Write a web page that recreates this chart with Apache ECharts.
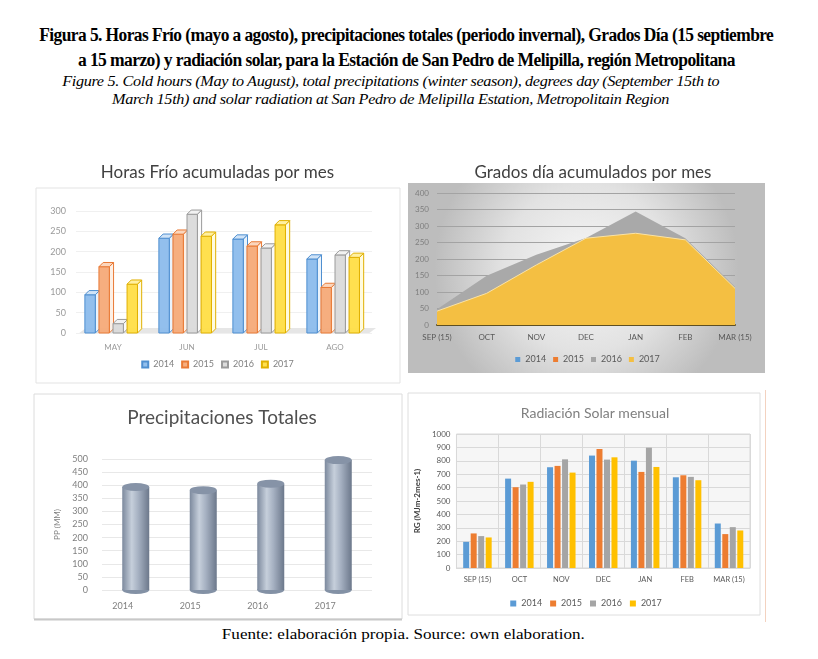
<!DOCTYPE html>
<html>
<head>
<meta charset="utf-8">
<script src="https://cdn.jsdelivr.net/npm/echarts@6/dist/echarts.min.js"></script>
<style>
  html,body{margin:0;padding:0;background:#fff;width:818px;height:659px;overflow:hidden;}
  .hl{position:absolute;white-space:nowrap;font-family:"Liberation Serif","Times New Roman",serif;color:#000;transform-origin:center center;}
  .ch{position:absolute;}
</style>
</head>
<body>
<div class="hl" id="h1" data-cx="406" data-cy="35" data-w="734" style="font-weight:bold;font-size:18px;letter-spacing:-0.6px;">Figura 5. Horas Frío (mayo a agosto), precipitaciones totales (periodo invernal), Grados Día (15 septiembre</div>
<div class="hl" id="h2" data-cx="406" data-cy="60" data-w="657" style="font-weight:bold;font-size:18px;letter-spacing:-0.6px;">a 15 marzo) y radiación solar, para la Estación de San Pedro de Melipilla, región Metropolitana</div>
<div class="hl" id="h3" data-cx="391" data-cy="82" data-w="657" style="font-style:italic;font-size:14px;letter-spacing:-0.3px;">Figure 5. Cold hours (May to August), total precipitations (winter season), degrees day (September 15th to</div>
<div class="hl" id="h4" data-cx="391" data-cy="100" data-w="557" style="font-style:italic;font-size:14px;letter-spacing:-0.3px;">March 15th) and solar radiation at San Pedro de Melipilla Estation, Metropolitain Region</div>
<div class="hl" id="h5" data-cx="403" data-cy="634" data-w="363" style="font-size:15px;">Fuente: elaboración propia. Source: own elaboration.</div>

<div class="ch" id="c1" style="left:30px;top:150px;width:375px;height:240px;"></div>
<div class="ch" id="c2" style="left:405px;top:150px;width:365px;height:230px;"></div>
<div class="ch" id="c3" style="left:30px;top:393px;width:375px;height:232px;"></div>
<div class="ch" id="c4" style="left:405px;top:390px;width:362px;height:232px;"></div>

<script>
// ---------- DATA ----------
const years = ['2014', '2015', '2016', '2017'];

// Horas Frío acumuladas por mes
const hfMonths = ['MAY', 'JUN', 'JUL', 'AGO'];
const hf2014 = [94, 233, 231, 182];
const hf2015 = [163, 243, 214, 112];
const hf2016 = [23, 292, 209, 192];
const hf2017 = [120, 238, 266, 186];

// Grados día acumulados por mes
const gdMonths = ['SEP (15)', 'OCT', 'NOV', 'DEC', 'JAN', 'FEB', 'MAR (15)'];
const gd2014 = [];
const gd2015 = [];
const gd2016 = [48, 149, 213, 264, 344, 263, 116];
const gd2017 = [42, 96, 182, 263, 278, 258, 111];

// Precipitaciones Totales
const ppYears = ['2014', '2015', '2016', '2017'];
const ppValues = [393, 381, 406, 496];

// Radiación Solar mensual
const rsMonths = ['SEP (15)', 'OCT', 'NOV', 'DEC', 'JAN', 'FEB', 'MAR (15)'];
const rs2014 = [195, 667, 752, 839, 801, 677, 332];
const rs2015 = [258, 603, 762, 888, 717, 692, 253];
const rs2016 = [238, 623, 811, 809, 898, 680, 305];
const rs2017 = [228, 643, 712, 826, 754, 655, 280];

// ---------- header layout ----------
document.querySelectorAll('.hl').forEach(el => {
  const w = el.getBoundingClientRect().width;
  const h = el.getBoundingClientRect().height;
  const cx = +el.dataset.cx, cy = +el.dataset.cy, tw = +el.dataset.w;
  el.style.left = (cx - w / 2) + 'px';
  el.style.top = (cy - h / 2) + 'px';
  el.style.transform = 'scaleX(' + (tw / w) + ')';
});

const FONT = 'Lato, "Open Sans", sans-serif';
const plain = v => String(v);

// ---------- Chart 1 ----------
const c1 = echarts.init(document.getElementById('c1'));
const hfSeries = [hf2014, hf2015, hf2016, hf2017];
const hfStyle = [
  {fill: 'rgba(140,188,236,0.95)', border: '#4f8fd0', top: '#cfe3f7', side: '#eaf3fc'},
  {fill: 'rgba(245,170,120,0.95)', border: '#e97a36', top: '#fbd6bd', side: '#fdf0e6'},
  {fill: 'rgba(218,218,218,0.95)', border: '#9a9a9a', top: '#f2f2f2', side: '#fafafa'},
  {fill: 'rgba(255,222,70,0.95)', border: '#e0b000', top: '#fff0a0', side: '#fffbe0'}
];
function render3D(idx, st) {
  return function (params, api) {
    const c = api.coord([api.value(0), api.value(1)]);
    const b = api.coord([api.value(0), 0]);
    const band = api.size([1, 0])[0];
    const slot = band * 0.19;
    const w = slot * 0.74, d = slot * 0.3;
    const x0 = c[0] + (idx - 2) * slot, x1 = x0 + w;
    const y0 = c[1], y1 = b[1];
    return {
      type: 'group', children: [
        {type: 'polygon', shape: {points: [[x1, y0], [x1 + d, y0 - d], [x1 + d, y1 - d], [x1, y1]]}, style: {fill: st.side, stroke: st.border, lineWidth: 1}},
        {type: 'rect', shape: {x: x0, y: y0, width: w, height: y1 - y0}, style: {fill: st.fill, stroke: st.border, lineWidth: 1}},
        {type: 'polygon', shape: {points: [[x0, y0], [x0 + d, y0 - d], [x1 + d, y0 - d], [x1, y0]]}, style: {fill: st.top, stroke: st.border, lineWidth: 1}}
      ]
    };
  };
}
c1.setOption({
  animation: false,
  textStyle: {fontFamily: FONT},
  title: {text: 'Horas Frío acumuladas por mes', left: 'center', top: 9,
    textStyle: {fontFamily: FONT, fontWeight: 'normal', fontSize: 17, color: '#404040'}},
  graphic: [
    {type: 'rect', shape: {x: 6, y: 38, width: 364, height: 195}, style: {fill: '#fff', stroke: '#e3e3e3', lineWidth: 1}, z: -10},
    {type: 'polygon', shape: {points: [[48, 184], [56, 178], [346, 178], [338, 184]]}, style: {fill: '#e6e6e6'}, z: -5}
  ],
  legend: {
    data: years, bottom: 16, left: 'center', icon: 'rect', itemWidth: 6, itemHeight: 6, itemGap: 7,
    textStyle: {fontSize: 9, color: '#808080', fontFamily: FONT}
  },
  grid: {left: 46, right: 33, top: 61, bottom: 57},
  xAxis: {type: 'category', data: hfMonths, axisLine: {show: false}, axisTick: {show: false},
    axisLabel: {fontSize: 8, color: '#9a9a9a', margin: 10}},
  yAxis: {type: 'value', min: 0, max: 300, interval: 50,
    axisLabel: {fontSize: 9, color: '#9a9a9a', margin: 10, formatter: plain},
    splitLine: {lineStyle: {color: '#f0f0f0'}}},
  series: years.map((y, i) => ({
    name: y, type: 'custom', renderItem: render3D(i, hfStyle[i]),
    itemStyle: {color: hfStyle[i].fill, borderColor: hfStyle[i].border, borderWidth: 1},
    encode: {x: 0, y: 1},
    data: hfSeries[i].map((v, k) => [k, v])
  }))
});

// ---------- Chart 2 ----------
const c2 = echarts.init(document.getElementById('c2'));
c2.setOption({
  animation: false,
  textStyle: {fontFamily: FONT},
  title: {text: 'Grados día acumulados por mes', left: 183, textAlign: 'center', top: 9,
    textStyle: {fontFamily: FONT, fontWeight: 'normal', fontSize: 17, color: '#404040'}},
  graphic: [
    {type: 'rect', shape: {x: 3, y: 33, width: 357, height: 190},
      style: {fill: new echarts.graphic.RadialGradient(0.5, 0.45, 0.8, [
        {offset: 0, color: '#f7f7f7'}, {offset: 0.55, color: '#e2e2e2'}, {offset: 1, color: '#bdbdbd'}])}, z: -10}
  ],
  legend: {
    data: years, top: 200, left: 'center', icon: 'rect', itemWidth: 5, itemHeight: 5, itemGap: 7,
    textStyle: {fontSize: 9, color: '#595959', fontFamily: FONT}
  },
  grid: {left: 32, right: 35, top: 43, bottom: 55},
  xAxis: {type: 'category', data: gdMonths, boundaryGap: false,
    axisLine: {lineStyle: {color: '#5e4f22', width: 2}}, axisTick: {show: false},
    axisLabel: {fontSize: 8, color: '#595959', margin: 8}},
  yAxis: {type: 'value', min: 0, max: 400, interval: 50,
    axisLabel: {fontSize: 8, color: '#7f7f7f', margin: 8, formatter: plain},
    splitLine: {lineStyle: {color: '#a3a3a3'}}},
  series: [
    {name: '2014', type: 'line', data: gd2014, symbol: 'none', itemStyle: {color: '#5b9bd5'}, lineStyle: {width: 0}, areaStyle: {color: '#5b9bd5', opacity: 1}},
    {name: '2015', type: 'line', data: gd2015, symbol: 'none', itemStyle: {color: '#ed7d31'}, lineStyle: {width: 0}, areaStyle: {color: '#ed7d31', opacity: 1}},
    {name: '2016', type: 'line', data: gd2016, symbol: 'none', itemStyle: {color: '#a5a5a5'}, lineStyle: {width: 0}, areaStyle: {color: '#a9a9a9', opacity: 1}},
    {name: '2017', type: 'line', data: gd2017, symbol: 'none', itemStyle: {color: '#f4bf42'}, lineStyle: {width: 1, color: '#fbe3a4'}, areaStyle: {color: '#f4bf42', opacity: 1}}
  ]
});

// ---------- Chart 3 ----------
const c3 = echarts.init(document.getElementById('c3'));
const cylGrad = new echarts.graphic.LinearGradient(0, 0, 1, 0, [
  {offset: 0, color: '#7c899d'}, {offset: 0.35, color: '#c6cfdb'}, {offset: 0.6, color: '#a5b0c1'}, {offset: 1, color: '#6c788b'}]);
c3.setOption({
  animation: false,
  textStyle: {fontFamily: FONT},
  title: {text: 'Precipitaciones Totales', left: 187, textAlign: 'center', top: 10,
    textStyle: {fontFamily: FONT, fontWeight: 'normal', fontSize: 19, color: '#505050'}},
  graphic: [
    {type: 'rect', shape: {x: 4, y: 1, width: 368, height: 225}, style: {fill: '#fff', stroke: '#dcdcdc', lineWidth: 1}, z: -10},
    {type: 'line', shape: {x1: 4, y1: 226.5, x2: 372, y2: 226.5}, style: {stroke: '#c8c8c8', lineWidth: 2}, z: -9}
  ],
  grid: {left: 72, right: 33, top: 66, bottom: 35},
  xAxis: {type: 'category', data: ppYears, axisLine: {show: false}, axisTick: {show: false},
    axisLabel: {fontSize: 9, color: '#7f7f7f', margin: 12, padding: [0, 26, 0, 0]}},
  yAxis: {type: 'value', min: 0, max: 500, interval: 50, name: 'PP (MM)', nameLocation: 'middle', nameGap: 37,
    nameTextStyle: {fontSize: 8, color: '#7f7f7f'},
    axisLabel: {fontSize: 9, color: '#7f7f7f', margin: 14, formatter: plain},
    splitLine: {lineStyle: {color: '#e8e8e8'}}},
  series: [
    {type: 'bar', data: ppValues, barWidth: 27, itemStyle: {color: cylGrad}, z: 2},
    {type: 'pictorialBar', data: ppValues, symbol: 'circle', symbolSize: [27, 8], symbolPosition: 'end', symbolOffset: [0, '-50%'],
      itemStyle: {color: '#8693a7'}, z: 3},
    {type: 'pictorialBar', data: ppValues, symbol: 'circle', symbolSize: [27, 8], symbolPosition: 'start', symbolOffset: [0, '50%'],
      itemStyle: {color: '#8391a5'}, z: 1}
  ]
});

// ---------- Chart 4 ----------
const c4 = echarts.init(document.getElementById('c4'));
const rsSeries = [rs2014, rs2015, rs2016, rs2017];
const rsColors = ['#5b9bd5', '#ed7d31', '#a5a5a5', '#ffc000'];
c4.setOption({
  animation: false,
  textStyle: {fontFamily: FONT},
  title: {text: 'Radiación Solar mensual', left: 185, textAlign: 'center', top: 11,
    textStyle: {fontFamily: FONT, fontWeight: 'normal', fontSize: 14, color: '#7f7f7f'}},
  graphic: [
    {type: 'rect', shape: {x: 3, y: 3, width: 352, height: 222}, style: {fill: '#fff', stroke: '#dedede', lineWidth: 1}, z: -10},
    {type: 'line', shape: {x1: 360.5, y1: 0, x2: 360.5, y2: 232}, style: {stroke: '#f3d2c0', lineWidth: 1}, z: -9}
  ],
  legend: {
    data: years, top: 204, left: 'center', icon: 'rect', itemWidth: 6, itemHeight: 6, itemGap: 8,
    textStyle: {fontSize: 9, color: '#595959', fontFamily: FONT}
  },
  grid: {left: 45, right: 17, top: 44, bottom: 54, show: true, backgroundColor: '#f6f6f6', borderColor: '#d9d9d9', borderWidth: 1},
  xAxis: {type: 'category', data: rsMonths, axisLine: {lineStyle: {color: '#d9d9d9'}}, axisTick: {show: false},
    splitLine: {show: true, interval: 0, lineStyle: {color: '#d9d9d9'}},
    axisLabel: {fontSize: 7.5, color: '#595959', margin: 8, interval: 0}},
  yAxis: {type: 'value', min: 0, max: 1000, interval: 100, name: 'RG (MJm-2mes-1)', nameLocation: 'middle', nameGap: 27,
    nameTextStyle: {fontSize: 8, color: '#404040', fontWeight: 'bold'},
    axisLabel: {fontSize: 8, color: '#595959', margin: 6, formatter: plain},
    splitLine: {lineStyle: {color: '#d9d9d9'}}},
  series: years.map((y, i) => ({
    name: y, type: 'bar', data: rsSeries[i], barWidth: 6, barGap: '25%',
    itemStyle: {color: rsColors[i]}
  }))
});
</script>
</body>
</html>
